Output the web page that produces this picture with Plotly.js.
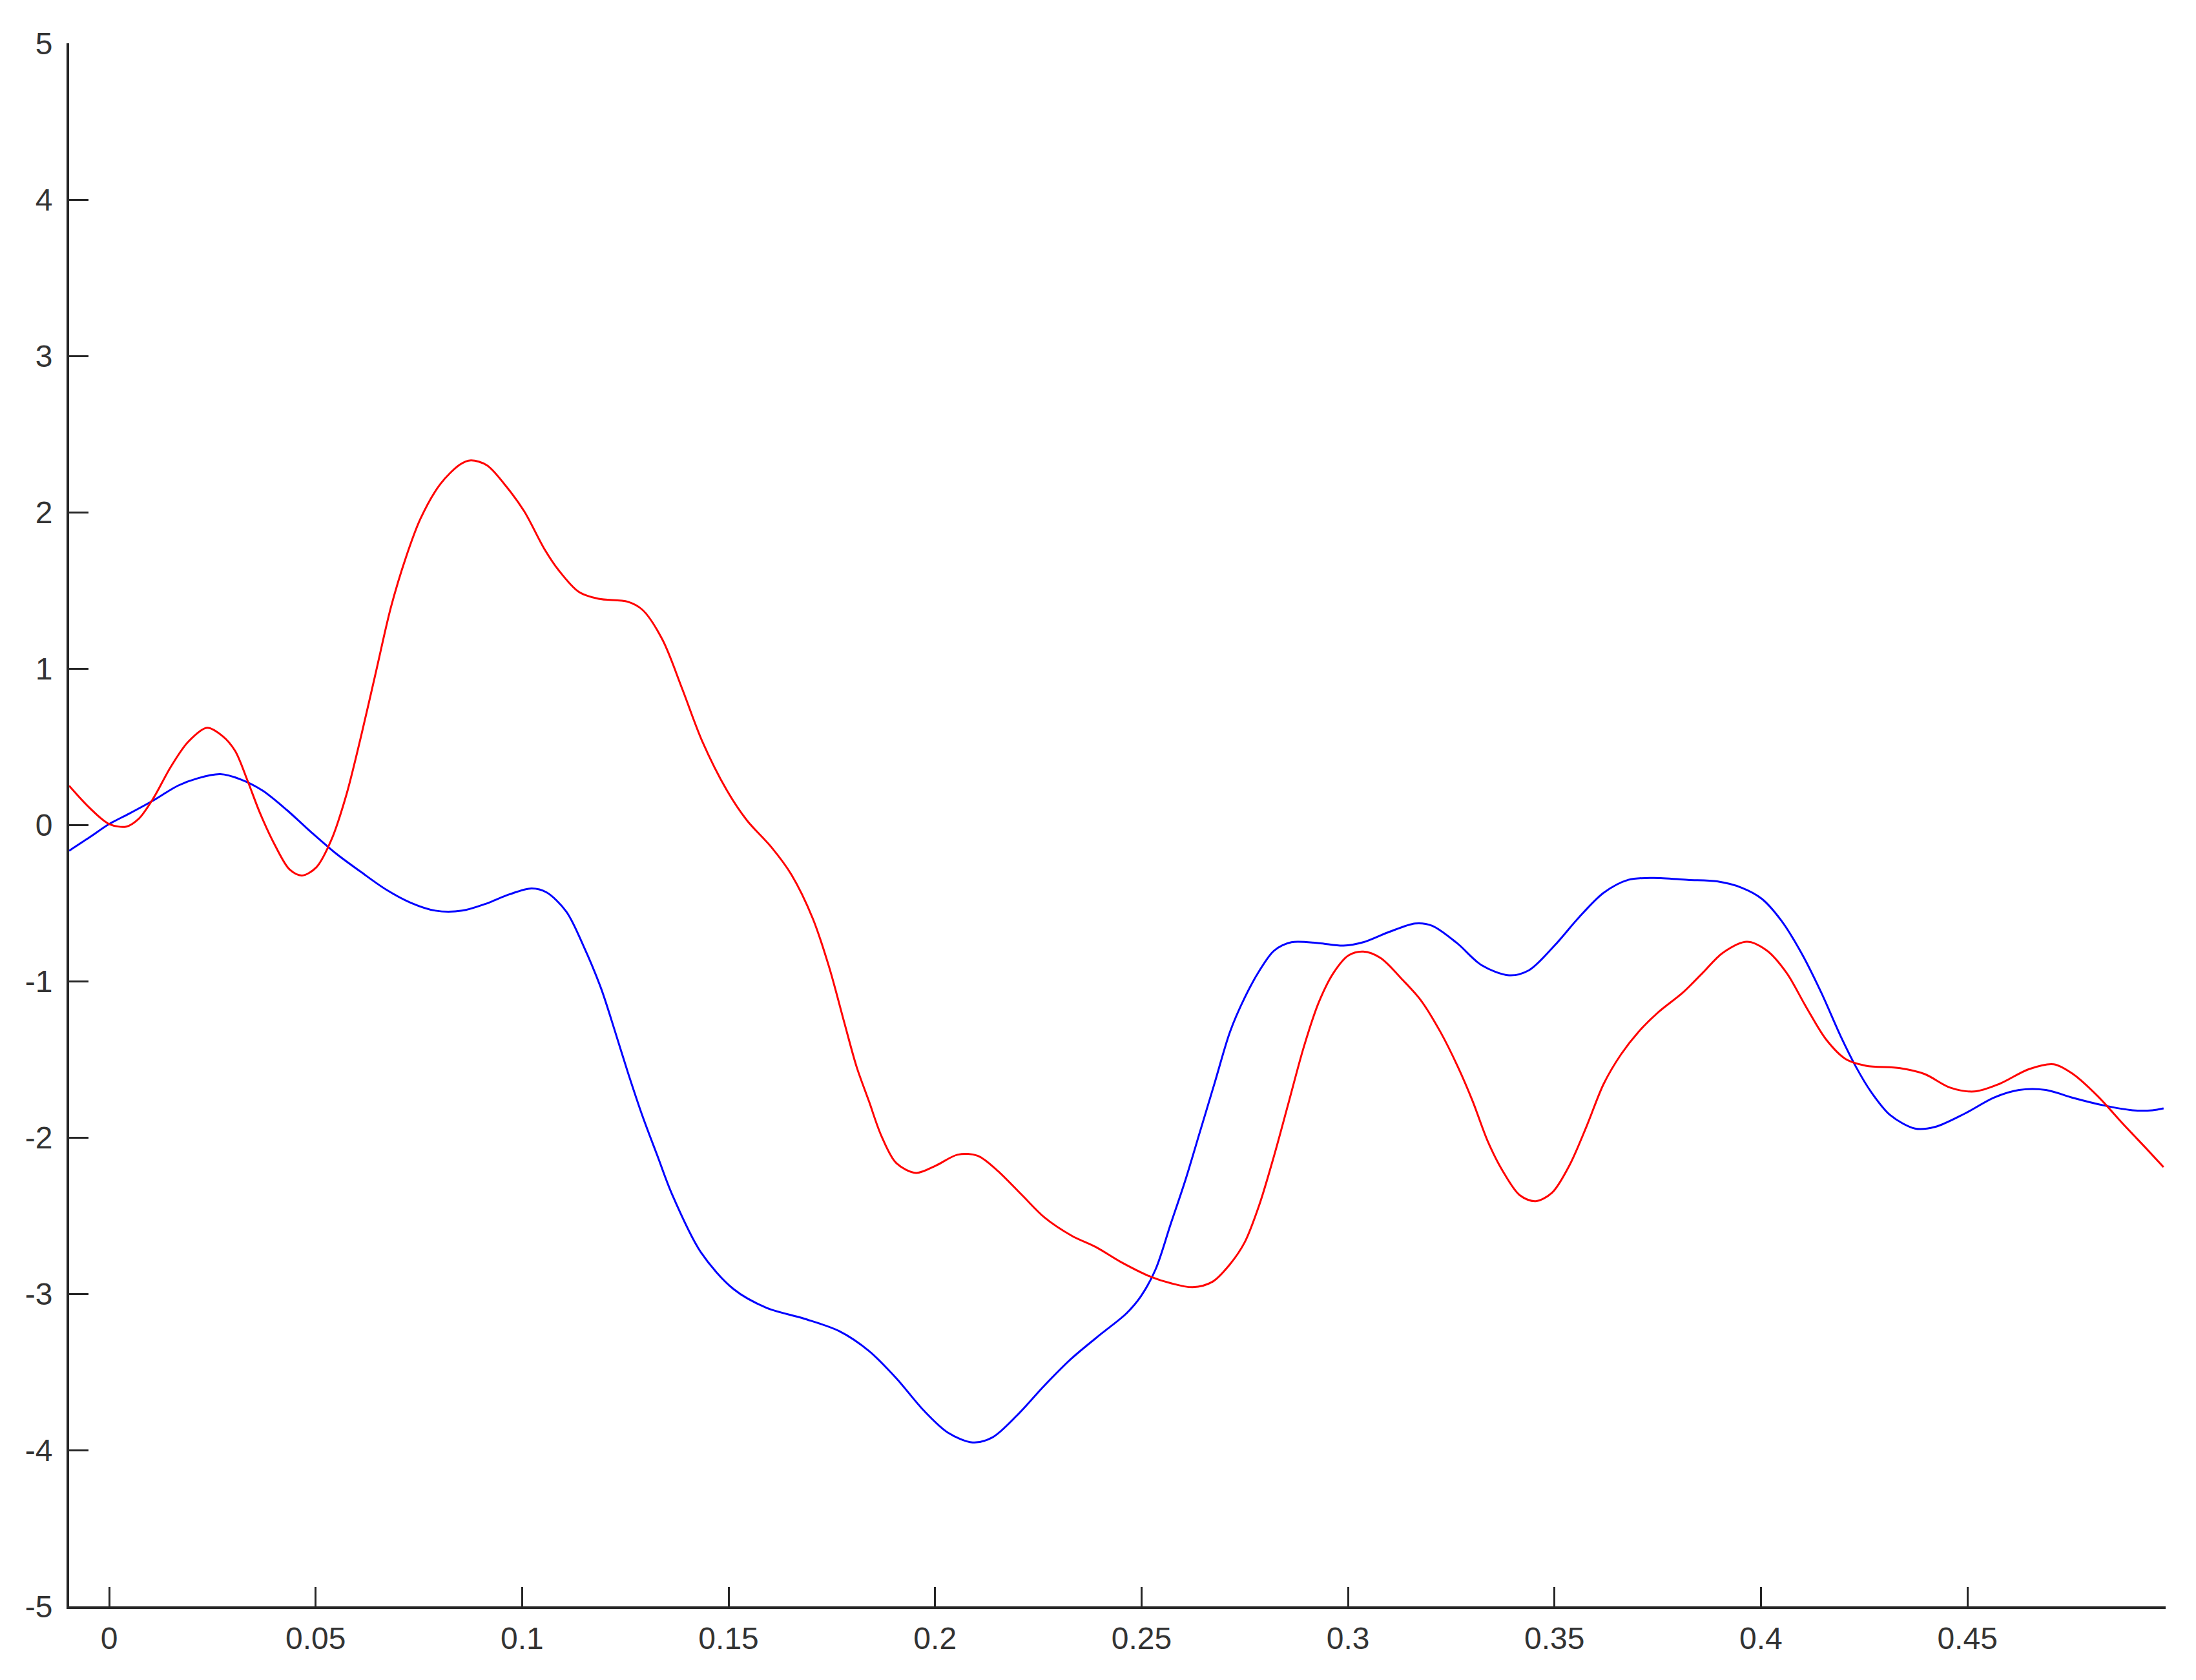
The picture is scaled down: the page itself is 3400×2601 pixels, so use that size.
<!DOCTYPE html>
<html>
<head>
<meta charset="utf-8">
<script src="https://cdn.plot.ly/plotly-3.0.1.min.js"></script>
<style>
  html, body { margin: 0; padding: 0; background: #ffffff; }
  #chart { width: 3400px; height: 2601px; }
</style>
</head>
<body>
<div id="chart"></div>
<script>
// red signal
const redX = [-0.0097, -0.0048, 0.0, 0.0042, 0.0072, 0.0107, 0.0149, 0.0191, 0.0237, 0.0275,
    0.0305, 0.0335, 0.0365, 0.0401, 0.0437, 0.0467, 0.0502, 0.0538, 0.0574, 0.061,
    0.0646, 0.0682, 0.0718, 0.0754, 0.0802, 0.085, 0.0876, 0.0915, 0.0957, 0.1005,
    0.1053, 0.1089, 0.1137, 0.1185, 0.1256, 0.1292, 0.134, 0.1388, 0.1436, 0.1496,
    0.1544, 0.1604, 0.1652, 0.1704, 0.1744, 0.178, 0.181, 0.184, 0.187, 0.1906,
    0.1954, 0.2002, 0.2055, 0.2103, 0.2151, 0.2211, 0.2265, 0.2331, 0.239, 0.245,
    0.2522, 0.257, 0.2624, 0.2672, 0.2714, 0.275, 0.2785, 0.2821, 0.2857, 0.2893,
    0.2929, 0.2965, 0.3001, 0.3037, 0.3079, 0.3133, 0.3176, 0.3224, 0.3266, 0.3302,
    0.3338, 0.3374, 0.3416, 0.3454, 0.3494, 0.3536, 0.3578, 0.3619, 0.3661, 0.3703,
    0.3751, 0.3811, 0.3859, 0.3907, 0.3966, 0.4014, 0.4062, 0.411, 0.4158, 0.4206,
    0.4254, 0.4337, 0.4397, 0.4457, 0.4517, 0.4577, 0.4649, 0.4709, 0.4756, 0.4816,
    0.4876, 0.4936, 0.4975];
const redY = [0.25, 0.11, 0.005, -0.011, 0.04, 0.17, 0.37, 0.53, 0.621, 0.567,
    0.473, 0.283, 0.077, -0.128, -0.286, -0.324, -0.271, -0.097, 0.188, 0.567,
    0.978, 1.389, 1.706, 1.959, 2.18, 2.306, 2.332, 2.30, 2.18, 2.006,
    1.769, 1.627, 1.491, 1.446, 1.427, 1.374, 1.184, 0.868, 0.536, 0.22,
    0.03, -0.144, -0.318, -0.6, -0.915, -1.263, -1.548, -1.769, -1.99, -2.164,
    -2.227, -2.18, -2.11, -2.117, -2.212, -2.37, -2.512, -2.629, -2.702, -2.797,
    -2.891, -2.932, -2.958, -2.923, -2.812, -2.67, -2.433, -2.117, -1.769, -1.421,
    -1.137, -0.947, -0.836, -0.811, -0.852, -0.994, -1.121, -1.326, -1.548, -1.769,
    -2.022, -2.212, -2.37, -2.408, -2.354, -2.18, -1.927, -1.658, -1.469, -1.326,
    -1.2, -1.073, -0.947, -0.82, -0.748, -0.804, -0.947, -1.168, -1.374, -1.5,
    -1.541, -1.557, -1.595, -1.68, -1.706, -1.658, -1.563, -1.532, -1.595, -1.737,
    -1.911, -2.079, -2.19];

// blue signal
const blueX = [-0.0097, -0.0048, 0.0, 0.0048, 0.0107, 0.0167, 0.0215, 0.0269, 0.0317, 0.0371,
    0.0431, 0.049, 0.055, 0.061, 0.067, 0.073, 0.079, 0.0855, 0.0909, 0.0969,
    0.1023, 0.1059, 0.1107, 0.1149, 0.1191, 0.1226, 0.1256, 0.1292, 0.1328, 0.1362,
    0.1433, 0.1512, 0.1592, 0.1684, 0.1768, 0.184, 0.1906, 0.1972, 0.2031, 0.2091,
    0.2139, 0.2199, 0.2265, 0.2331, 0.2403, 0.2462, 0.2498, 0.2534, 0.257, 0.2606,
    0.2642, 0.2678, 0.2714, 0.275, 0.2786, 0.2821, 0.2863, 0.2929, 0.2989, 0.3037,
    0.3097, 0.3163, 0.3204, 0.3264, 0.3324, 0.339, 0.3438, 0.35, 0.3559, 0.3619,
    0.3679, 0.3739, 0.3823, 0.3894, 0.3954, 0.4002, 0.405, 0.4098, 0.4146, 0.4194,
    0.423, 0.4266, 0.4313, 0.4373, 0.4421, 0.4493, 0.4565, 0.4625, 0.469, 0.4756,
    0.4828, 0.49, 0.4948, 0.4975];
const blueY = [-0.166, -0.081, 0.005, 0.071, 0.156, 0.251, 0.298, 0.324, 0.292, 0.22,
    0.093, -0.049, -0.185, -0.302, -0.413, -0.498, -0.549, -0.549, -0.508, -0.445,
    -0.407, -0.432, -0.555, -0.777, -1.045, -1.33, -1.583, -1.867, -2.12, -2.357,
    -2.735, -2.97, -3.09, -3.16, -3.239, -3.366, -3.54, -3.745, -3.888, -3.951,
    -3.919, -3.777, -3.587, -3.413, -3.255, -3.129, -3.018, -2.844, -2.559, -2.275,
    -1.959, -1.643, -1.326, -1.105, -0.931, -0.805, -0.751, -0.757, -0.773, -0.751,
    -0.688, -0.631, -0.646, -0.757, -0.899, -0.963, -0.931, -0.773, -0.593, -0.435,
    -0.352, -0.34, -0.352, -0.362, -0.403, -0.473, -0.615, -0.82, -1.073, -1.358,
    -1.548, -1.706, -1.857, -1.943, -1.933, -1.848, -1.744, -1.696, -1.696, -1.747,
    -1.794, -1.826, -1.826, -1.814];

const xTicks = [0, 0.05, 0.1, 0.15, 0.2, 0.25, 0.3, 0.35, 0.4, 0.45];
const xTickText = ["0", "0.05", "0.1", "0.15", "0.2", "0.25", "0.3", "0.35", "0.4", "0.45"];
const yTicks = [-5, -4, -3, -2, -1, 0, 1, 2, 3, 4, 5];
const yTickText = ["-5", "-4", "-3", "-2", "-1", "0", "1", "2", "3", "4", "5"];

const red = {
    x: redX,
    y: redY,
    type: 'scatter',
    mode: 'lines',
    line: { color: '#ff0000', width: 3, shape: 'spline', smoothing: 0.9 }
};
const blue = {
    x: blueX,
    y: blueY,
    type: 'scatter',
    mode: 'lines',
    line: { color: '#0000ff', width: 3, shape: 'spline', smoothing: 0.9 }
};

const tickFont = { family: '"Liberation Sans Narrow", "Liberation Sans", Arial, sans-serif', size: 48, color: '#333333' };

Plotly.newPlot('chart', [blue, red], {
    width: 3400,
    height: 2601,
    showlegend: false,
    paper_bgcolor: '#ffffff',
    plot_bgcolor: '#ffffff',
    margin: { l: 107, r: 47, t: 67, b: 114 },
    xaxis: {
        range: [-0.0097, 0.498],
        tickvals: xTicks,
        ticktext: xTickText,
        ticks: 'inside',
        ticklen: 30,
        tickwidth: 3,
        tickcolor: '#262626',
        ticklabelstandoff: 4,
        showline: true,
        linecolor: '#262626',
        linewidth: 4,
        showgrid: false,
        zeroline: false,
        tickfont: tickFont
    },
    yaxis: {
        range: [-5, 5],
        tickvals: yTicks,
        ticktext: yTickText,
        ticks: 'inside',
        ticklen: 30,
        tickwidth: 3,
        tickcolor: '#262626',
        ticklabelstandoff: 12,
        showline: true,
        linecolor: '#262626',
        linewidth: 4,
        showgrid: false,
        zeroline: false,
        tickfont: tickFont
    }
}, { staticPlot: true });
</script>
</body>
</html>
